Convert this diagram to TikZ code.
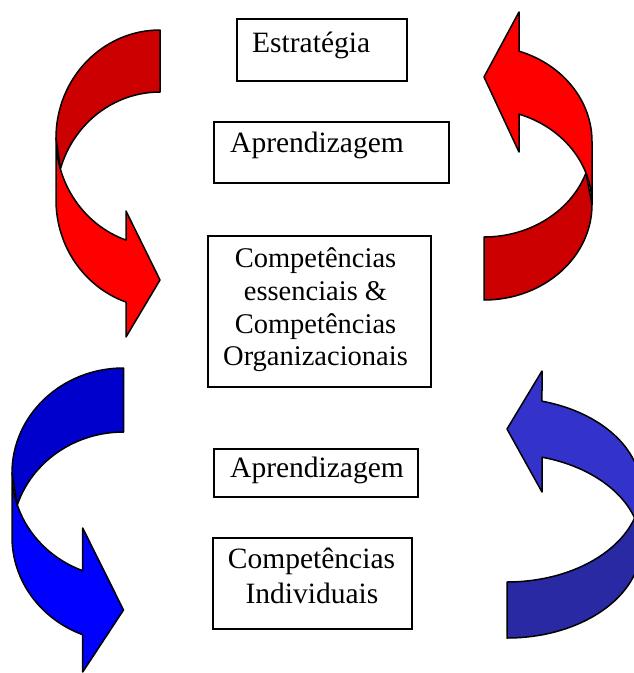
\documentclass[tikz,border=0pt]{standalone}
\usepackage{fontspec}
\setmainfont{Liberation Serif}

% Curved ribbon arrow: tail at the top right, sweeping round the left,
% head at the lower right pointing right.
% #1 x of tail/tip line, #2 top of tail, #3 horizontal radius,
% #4 band thickness, #5 vertical radius, #6 head length,
% #7 upper notch y, #8 lower notch y, #9 tip y
\newcommand{\ribbonarrow}[9]{%
  \pgfmathsetmacro\rbL{#1-#3}%
  \pgfmathsetmacro\rbCa{#2+#5}%
  \pgfmathsetmacro\rbCb{#2+#5+#4}%
  \pgfmathsetmacro\rbAl{180-acos(#6/#3)}%
  \pgfmathsetmacro\rbPh{180+asin(#4/(2*#5))}%
  \pgfmathsetmacro\rbYa{\rbCa+#5*sin(\rbAl)}%
  \pgfmathsetmacro\rbXb{#1-#6}%
  \pgfmathsetmacro\rbXx{#1+#3*cos(\rbPh)}%
  \pgfmathsetmacro\rbYx{\rbCb+#5*sin(\rbPh)}%
  \filldraw[ribbon front] (\rbL,\rbCa) -- (\rbL,\rbCb)
     arc[start angle=180, end angle=\rbAl, x radius=#3, y radius=#5]
     -- (\rbXb,#8) -- (#1,#9) -- (\rbXb,#7) -- (\rbXb,\rbYa)
     arc[start angle=\rbAl, end angle=180, x radius=#3, y radius=#5] -- cycle;
  \filldraw[ribbon back] (#1,#2)
     arc[start angle=270, end angle=180, x radius=#3, y radius=#5]
     -- (\rbXx,\rbYx)
     arc[start angle=\rbPh, end angle=270, x radius=#3, y radius=#5] -- cycle;
}

\definecolor{redfront}{HTML}{FF0000}
\definecolor{redback}{HTML}{CC0000}
\definecolor{bluefront}{HTML}{0000FF}
\definecolor{blueback}{HTML}{0000CC}
\definecolor{slatefront}{HTML}{3333CC}
\definecolor{slateback}{HTML}{2929A3}

\begin{document}
\begin{tikzpicture}[x=1pt,y=-1pt,
  ribbon/.style={draw=black, line width=1.5, line join=round},
  box/.style={draw=black, line width=2, inner sep=0, fill=white},
  lbl/.style={inner sep=0, anchor=base west},
  clbl/.style={inner sep=0, anchor=base},
  big/.style={font=\fontsize{29.5}{34}\selectfont},
  mid/.style={font=\fontsize{28.5}{33}\selectfont}]
\useasboundingbox (0,0) rectangle (634,673);

% red arrows
\begin{scope}[ribbon front/.style={ribbon, fill=redfront},
              ribbon back/.style={ribbon, fill=redback}]
  \ribbonarrow{160}{30}{104}{62}{108}{34}{211}{337}{280}
  \begin{scope}[rotate=180]
    \ribbonarrow{-484}{-300}{108}{63}{95.5}{35}{-152}{-12}{-77}
  \end{scope}
\end{scope}

% blue arrows
\begin{scope}[ribbon front/.style={ribbon, fill=bluefront},
              ribbon back/.style={ribbon, fill=blueback}]
  \ribbonarrow{123.5}{368}{111.5}{64}{105}{40.8}{528}{672}{610}
\end{scope}
\begin{scope}[rotate=180,
              ribbon front/.style={ribbon, fill=slatefront},
              ribbon back/.style={ribbon, fill=slateback}]
  \ribbonarrow{-507}{-638}{134}{56}{92}{35}{-492}{-371}{-429}
\end{scope}

% boxes
\node[box, minimum width=170, minimum height=62] (estrategia) at (322,50) {};
\node[box, minimum width=235, minimum height=61] (aprend1) at (331.5,152.5) {};
\node[box, minimum width=223, minimum height=151] (compOrg) at (319.5,311.5) {};
\node[box, minimum width=204, minimum height=48] (aprend2) at (316,473) {};
\node[box, minimum width=199, minimum height=91] (compInd) at (312.5,583.5) {};

% labels
\node[lbl, big] (estrategiaT) at (252,52) {Estratégia};
\node[lbl, big] (aprend1T) at (230,152) {Aprendizagem};
\node[clbl, mid] (compOrgA) at (315.5,267) {Competências};
\node[clbl, mid] (compOrgB) at (315.5,300) {essenciais \&};
\node[clbl, mid] (compOrgC) at (315.5,333) {Competências};
\node[clbl, mid] (compOrgD) at (315.5,365) {Organizacionais};
\node[lbl, big] (aprend2T) at (230,477) {Aprendizagem};
\node[clbl, big] (compIndA) at (311.5,568) {Competências};
\node[clbl, big] (compIndB) at (312,603) {Individuais};
\end{tikzpicture}
\end{document}
